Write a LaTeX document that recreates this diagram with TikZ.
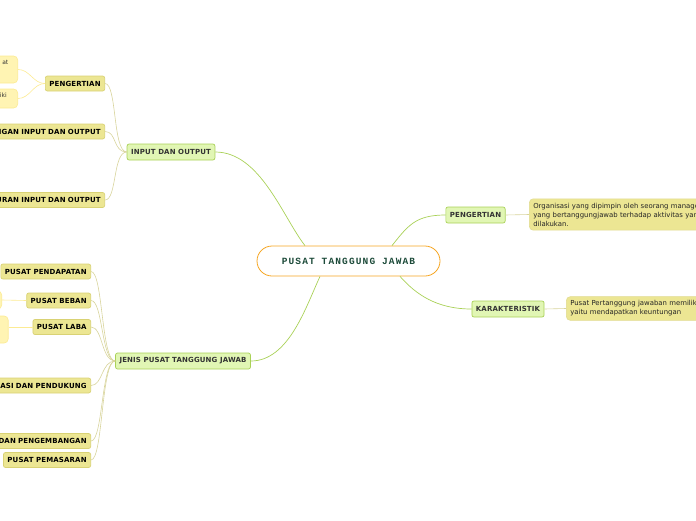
\documentclass[tikz,border=0pt]{standalone}
\usepackage{fontspec}
\setmainfont{DejaVu Sans}
\newfontfamily\rootfont[LetterSpace=12,BoldFont={Liberation Mono Bold}]{Liberation Mono}
\newfontfamily\labelfont[LetterSpace=2]{DejaVu Sans Bold}
\usetikzlibrary{positioning}
\definecolor{rootline}{HTML}{F6A623}
\definecolor{roottext}{HTML}{1D4B3A}
\definecolor{greenfill}{HTML}{E1F6B4}
\definecolor{greenline}{HTML}{A9D157}
\definecolor{yellowfill}{HTML}{ECE693}
\definecolor{yellowline}{HTML}{D9D274}
\definecolor{leaffill}{HTML}{FFF4B3}
\definecolor{leafline}{HTML}{FCEB93}
\definecolor{subwire}{HTML}{D8D49C}
\tikzset{
    root/.style={draw=rootline, line width=0.8pt, fill=white, rounded corners=15pt,
        minimum width=183pt, minimum height=30pt, text=roottext,
        font=\rootfont\bfseries\fontsize{9.5}{9.5}\selectfont}, % central topic
    mainbox/.style={draw=greenline, fill=greenfill, line width=0.7pt, rounded corners=2pt,
        minimum height=16pt, inner xsep=4pt, text=black!80,
        font=\labelfont\fontsize{7}{7}\selectfont}, % first level
    subbox/.style={draw=yellowline, fill=yellowfill, line width=0.7pt, rounded corners=2pt,
        minimum height=15pt, inner xsep=4pt, text=black,
        font=\labelfont\fontsize{7}{7}\selectfont}, % second level
    notebox/.style={draw=yellowline!80, fill=yellowfill, line width=0.6pt, rounded corners=4pt,
        inner sep=4pt, align=left, anchor=west, text=black!85,
        font=\fontsize{6.9}{9}\selectfont}, % descriptions
    leafbox/.style={draw=leafline, fill=leaffill, line width=0.6pt, rounded corners=4pt}, % cut-off notes
    mainwire/.style={draw=greenline, line width=0.7pt},
    subwire/.style={draw=subwire, line width=0.6pt},
    leafwire/.style={draw=leafline, line width=0.6pt},
}
\begin{document}
\begin{tikzpicture}[x=1pt, y=-1pt]
    \useasboundingbox (0,0) rectangle (696,520);
    \clip (0,0) rectangle (696,520);

    % Central topic
    \node[root] (root) at (348.5,261) {PUSAT TANGGUNG JAWAB};

    % First level
    \node[mainbox] (io) at (171,152) {INPUT DAN OUTPUT};
    \node[mainbox] (jenis) at (183,361) {JENIS PUSAT TANGGUNG JAWAB};
    \node[mainbox] (pengr) at (475.5,215) {PENGERTIAN};
    \node[mainbox] (karak) at (508,309) {KARAKTERISTIK};

    % Descriptions on the right
    \node[notebox, text width=200pt] (defn) at (529,214.5)
        {Organisasi yang dipimpin oleh seorang manager\\yang bertanggungjawab terhadap aktivitas yang\\dilakukan.};
    \node[notebox, text width=200pt] (ciri) at (566,308.5)
        {Pusat Pertanggung jawaban memiliki\\yaitu mendapatkan keuntungan};

    % Children of INPUT DAN OUTPUT
    \node[subbox, anchor=east] (pengl) at (105,83.5) {PENGERTIAN};
    \node[subbox, anchor=east, text width=120pt, align=right] (hub) at (105,131.5) {NGAN INPUT DAN OUTPUT};
    \node[subbox, anchor=east, text width=120pt, align=right] (ukur) at (105,200) {URAN INPUT DAN OUTPUT};

    % Notes of PENGERTIAN (cut off at the edge)
    \node[leafbox, anchor=east, minimum width=60pt, minimum height=27pt] (n1) at (18,69.5) {};
    \node[leafbox, anchor=east, minimum width=60pt, minimum height=19pt] (n2) at (18,98.5) {};
    \node[anchor=north east, inner sep=0pt, font=\fontsize{6}{6}\selectfont, text=black!80] (t1) at (8.5,60) {at};
    \node[anchor=north east, inner sep=0pt, font=\fontsize{6}{6}\selectfont, text=black!80] (t2) at (7,93) {iki};

    % Children of JENIS PUSAT TANGGUNG JAWAB
    \node[subbox, anchor=east] (dapat) at (91,271.5) {PUSAT PENDAPATAN};
    \node[subbox, anchor=east] (beban) at (91,300.5) {PUSAT BEBAN};
    \node[subbox, anchor=east] (laba) at (91,327) {PUSAT LABA};
    \node[subbox, anchor=east, text width=120pt, align=right] (dukung) at (91,385.5) {RASI DAN PENDUKUNG};
    \node[subbox, anchor=east, text width=120pt, align=right] (kembang) at (91,441) {DAN PENGEMBANGAN};
    \node[subbox, anchor=east] (pasar) at (91,460) {PUSAT PEMASARAN};

    % Notes of PUSAT BEBAN and PUSAT LABA
    \node[leafbox, anchor=east, minimum width=40pt, minimum height=18pt] (n3) at (2,300) {};
    \node[leafbox, anchor=east, minimum width=40pt, minimum height=27pt] (n4) at (8.5,329.5) {};

    % Main branches
    \path[mainwire] (io.east) .. controls +(45,0) and +(-22,-28) .. ([xshift=-43.5pt]root.north);
    \path[mainwire] (jenis.east) .. controls +(38,0) and +(-14,30) .. ([xshift=-28.5pt]root.south);
    \path[mainwire] ([xshift=43.5pt]root.north) .. controls +(16,-20) and +(-30,0) .. (pengr.west);
    \path[mainwire] ([xshift=51.5pt]root.south) .. controls +(16,18) and +(-35,0) .. (karak.west);

    % Second level branches
    \foreach \kid in {pengl, hub, ukur}
        \path[subwire] (\kid.east) .. controls +(12,0) and +(-14,0) .. (io.west);
    \foreach \kid in {dapat, beban, laba, dukung, kembang, pasar}
        \path[subwire] (\kid.east) .. controls +(12,0) and +(-14,0) .. (jenis.west);
    \path[subwire] (pengr.east) -- (defn.west);
    \path[subwire] (karak.east) -- (ciri.west);

    % Note links
    \foreach \kid in {n1, n2}
        \path[leafwire] (\kid.east) .. controls +(12,0) and +(-12,0) .. (pengl.west);
    \path[leafwire] (n3.east) -- (beban.west);
    \path[leafwire] (n4.east |- laba.west) -- (laba.west);
\end{tikzpicture}
\end{document}
